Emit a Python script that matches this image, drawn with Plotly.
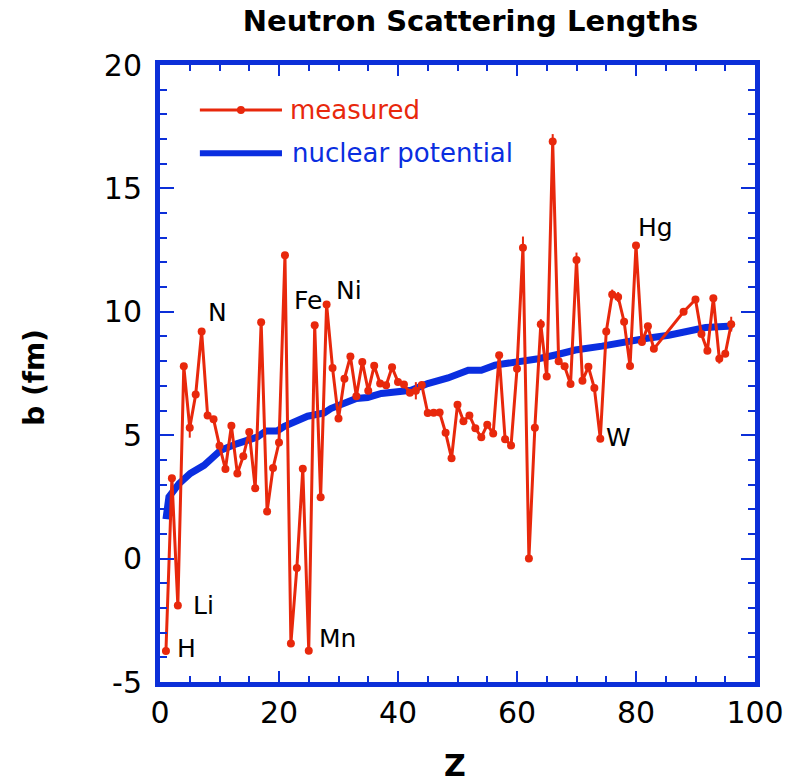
import plotly.graph_objects as go

# ---------------- data ----------------
Z = [1, 2, 3, 4, 5, 6, 7, 8, 9, 10,
     11, 12, 13, 14, 15, 16, 17, 18, 19, 20,
     21, 22, 23, 24, 25, 26, 27, 28, 29, 30,
     31, 32, 33, 34, 35, 36, 37, 38, 39, 40,
     41, 42, 43, 44, 45, 46, 47, 48, 49, 50,
     51, 52, 53, 54, 55, 56, 57, 58, 59, 60,
     61, 62, 63, 64, 65, 66, 67, 68, 69, 70,
     71, 72, 73, 74, 75, 76, 77, 78, 79, 80,
     81, 82, 83, 88, 90, 91, 92, 93, 94, 95, 96]
b_measured = [-3.74, 3.26, -1.90, 7.79, 5.30, 6.65, 9.20, 5.80, 5.65, 4.57,
              3.63, 5.38, 3.45, 4.15, 5.13, 2.85, 9.58, 1.91, 3.67, 4.70,
              12.29, -3.44, -0.38, 3.64, -3.73, 9.45, 2.49, 10.30, 7.72, 5.68,
              7.29, 8.19, 6.58, 7.97, 6.80, 7.81, 7.09, 7.02, 7.75, 7.16,
              7.05, 6.72, 6.80, 7.03, 5.90, 5.91, 5.92, 5.10, 4.07, 6.23,
              5.57, 5.80, 5.28, 4.92, 5.42, 5.07, 8.24, 4.84, 4.58, 7.69,
              12.60, 0.00, 5.30, 9.50, 7.38, 16.90, 8.00, 7.79, 7.07, 12.10,
              7.21, 7.77, 6.91, 4.86, 9.20, 10.70, 10.60, 9.60, 7.80, 12.69,
              8.78, 9.41, 8.50, 10.00, 10.50, 9.10, 8.42, 10.55, 8.10, 8.30, 9.50]
b_error = [0, 0, 0, 0, 0.4, 0, 0, 0, 0, 0,
           0, 0, 0, 0, 0, 0, 0, 0, 0, 0,
           0, 0, 0, 0, 0, 0, 0, 0, 0, 0,
           0, 0, 0, 0, 0, 0, 0, 0, 0, 0,
           0, 0, 0.35, 0, 0, 0, 0, 0, 0, 0,
           0, 0, 0, 0, 0, 0, 0, 0, 0, 0,
           0.45, 0, 0, 0.2, 0, 0.3, 0, 0, 0, 0.3,
           0, 0, 0, 0, 0, 0.2, 0.2, 0, 0, 0,
           0, 0, 0, 0, 0, 0, 0, 0, 0.2, 0, 0.3]

Z_potential = [1, 1.5, 3.2, 5.1, 7.4, 10.2, 13.0, 16.4, 17.8, 19.7,
               20.9, 24.8, 27.6, 28.7, 33.0, 34.9, 37.2, 42.2, 45.0, 48.4,
               51.8, 54.0, 56.3, 60.2, 63.6, 67.0, 69.8, 74.3, 77.1, 81.6,
               85.5, 90.0, 91.7, 96.2]
b_potential = [1.60, 2.50, 3.04, 3.45, 3.78, 4.39, 4.66, 4.93, 5.17, 5.17,
               5.36, 5.77, 5.90, 6.08, 6.49, 6.53, 6.69, 6.82, 7.09, 7.32,
               7.63, 7.63, 7.84, 7.97, 8.10, 8.28, 8.45, 8.61, 8.74, 8.92,
               9.05, 9.28, 9.36, 9.42]

label_text = ["H", "Li", "N", "Fe", "Ni", "Mn", "W", "Hg"]
label_Z = [4.4, 7.3, 9.6, 24.8, 31.8, 29.8, 77.0, 83.3]
label_b = [-3.63, -1.89, 9.98, 10.47, 10.88, -3.23, 4.92, 13.4]

x_ticks = [0, 20, 40, 60, 80, 100]
y_ticks = [-5, 0, 5, 10, 15, 20]

RED = "#e8280c"
BLUE = "#0a2ee0"
FRAME = "#0c2fd8"
FONT = "DejaVu Sans"

fig = go.Figure()

fig.add_trace(go.Scatter(
    x=Z_potential, y=b_potential, mode="lines",
    line=dict(color=BLUE, width=7), showlegend=False, hoverinfo="skip"))

fig.add_trace(go.Scatter(
    x=Z, y=b_measured, mode="lines+markers",
    line=dict(color=RED, width=3),
    marker=dict(color=RED, size=8),
    error_y=dict(type="data", array=b_error, visible=True, color=RED,
                 thickness=2, width=0),
    showlegend=False))

for t, zx, by in zip(label_text, label_Z, label_b):
    fig.add_annotation(x=zx, y=by, text=t, showarrow=False,
                       font=dict(family=FONT, size=25, color="black"),
                       xanchor="center", yanchor="middle")

# custom legend
fig.add_shape(type="line", xref="paper", yref="paper",
              x0=0.067, x1=0.205, y0=0.927, y1=0.927,
              line=dict(color=RED, width=3))
fig.add_shape(type="circle", xref="paper", yref="paper",
              xsizemode="pixel", ysizemode="pixel",
              xanchor=0.136, yanchor=0.927, x0=-4, x1=4, y0=-4, y1=4,
              fillcolor=RED, line=dict(color=RED, width=0))
fig.add_shape(type="line", xref="paper", yref="paper",
              x0=0.067, x1=0.205, y0=0.857, y1=0.857,
              line=dict(color=BLUE, width=6))
fig.add_annotation(xref="paper", yref="paper", x=0.215, y=0.927,
                   text="measured", showarrow=False, xanchor="left",
                   yanchor="middle", font=dict(family=FONT, size=26, color=RED))
fig.add_annotation(xref="paper", yref="paper", x=0.218, y=0.857,
                   text="nuclear potential", showarrow=False, xanchor="left",
                   yanchor="middle", font=dict(family=FONT, size=26, color=BLUE))

# axis titles
fig.add_annotation(xref="paper", yref="paper", x=0.496, y=-0.135,
                   text="<b>Z</b>", showarrow=False, xanchor="center",
                   yanchor="middle", font=dict(family=FONT, size=30, color="black"))
fig.add_annotation(xref="paper", yref="paper", x=-0.21, y=0.493,
                   text="<b>b (fm)</b>", showarrow=False, textangle=-90,
                   xanchor="center", yanchor="middle",
                   font=dict(family=FONT, size=28, color="black"))

fig.update_layout(
    width=797, height=784,
    margin=dict(l=160, r=42, t=65, b=102),
    paper_bgcolor="white", plot_bgcolor="white",
    title=dict(text="<b>Neutron Scattering Lengths</b>", x=0.5904, y=0.973,
               xref="container", yref="container",
               xanchor="center", yanchor="middle",
               font=dict(family=FONT, size=29, color="black")),
    font=dict(family=FONT, color="black"),
)
fig.update_xaxes(range=[0, 100], tickvals=x_ticks, ticktext=[str(v) for v in x_ticks],
                 showgrid=False, zeroline=False,
                 showline=True, linecolor=FRAME, linewidth=5, mirror="allticks",
                 ticks="inside", ticklen=11, tickwidth=2, tickcolor=FRAME,
                 minor=dict(dtick=5, tick0=0, ticks="inside", ticklen=6,
                            tickwidth=2, tickcolor=FRAME, showgrid=False),
                 tickfont=dict(family=FONT, size=30, color="black"))
fig.update_yaxes(range=[-5, 20], tickvals=y_ticks, ticktext=[str(v) for v in y_ticks],
                 showgrid=False, zeroline=False,
                 showline=True, linecolor=FRAME, linewidth=5, mirror="allticks",
                 ticks="inside", ticklen=14, tickwidth=2, tickcolor=FRAME,
                 ticklabelstandoff=7,
                 minor=dict(dtick=1, tick0=0, ticks="inside", ticklen=7,
                            tickwidth=2, tickcolor=FRAME, showgrid=False),
                 tickfont=dict(family=FONT, size=30, color="black"))

fig.write_html("out.html")
